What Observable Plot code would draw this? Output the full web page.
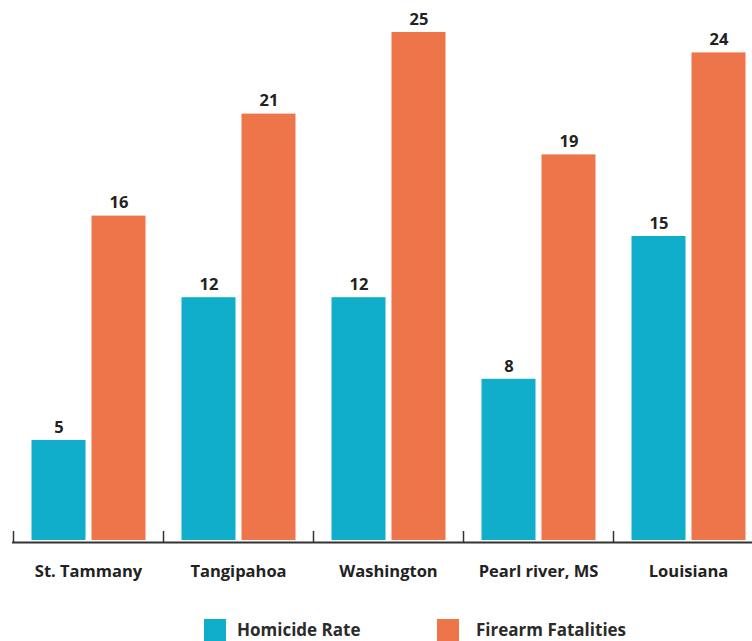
<!DOCTYPE html>
<html>
<head>
<meta charset="utf-8">
<script src="https://cdn.jsdelivr.net/npm/d3@7"></script>
<script src="https://cdn.jsdelivr.net/npm/@observablehq/plot@0.6"></script>
<style>
  html, body { margin: 0; padding: 0; background: #fff; }
  #wrap { position: relative; width: 752px; height: 641px; overflow: hidden; font-family: "Open Sans", sans-serif; }
  .legend-item { position: absolute; top: 619px; display: flex; align-items: center; font-weight: 700; font-size: 17px; color: #2b2b2b; line-height: 22px; }
  .swatch { width: 22px; height: 22px; display: inline-block; }
</style>
</head>
<body>
<div id="wrap"></div>
<script>
const categories = ["St. Tammany", "Tangipahoa", "Washington", "Pearl river, MS", "Louisiana"];
const homicideRate = [5, 12, 12, 8, 15];
const firearmFatalities = [16, 21, 25, 19, 24];
const seriesNames = ["Homicide Rate", "Firearm Fatalities"];
const seriesColors = ["#11aecb", "#ee754a"];

const rows = [];
categories.forEach((c, i) => {
  rows.push({category: c, series: seriesNames[0], value: homicideRate[i]});
  rows.push({category: c, series: seriesNames[1], value: firearmFatalities[i]});
});

const step = 150;
const insets = {
  [seriesNames[0]]: {left: 18.5, right: 77.5},
  [seriesNames[1]]: {left: 78.5, right: 17.5}
};

const textColor = "#222";
const fontFamily = "'Open Sans', sans-serif";

const marks = [];
for (const s of seriesNames) {
  const data = rows.filter(d => d.series === s);
  marks.push(Plot.barY(data, {
    x: "category", y: "value", fill: "series",
    insetLeft: insets[s].left, insetRight: insets[s].right, insetBottom: 2
  }));
  marks.push(Plot.text(data, {
    x: "category", y: "value", text: d => String(d.value),
    dx: (insets[s].left - insets[s].right) / 2, dy: -13,
    lineAnchor: "middle", fontWeight: 700, fontSize: 16.5, fill: textColor
  }));
}
marks.push(Plot.ruleY([0], {stroke: "#333", strokeWidth: 2}));
marks.push(Plot.ruleX(categories, {x: d => d, y1: 0, y2: 0, dx: -step / 2, insetTop: -11, stroke: "#333", strokeWidth: 1.5}));
marks.push(Plot.text(categories, {
  x: d => d, y: 0, text: d => d, dy: 29, lineAnchor: "middle",
  fontWeight: 700, fontSize: 16.5, fill: textColor
}));

const chart = Plot.plot({
  width: 752,
  height: 612,
  marginLeft: 12,
  marginRight: 0,
  marginTop: 32,
  marginBottom: 70,
  style: {fontFamily, background: "#fff"},
  x: {domain: categories, range: [12.5, 12.5 + step * categories.length], padding: 0, axis: null},
  y: {domain: [0, 25], range: [542, 32], nice: false, axis: null},
  color: {domain: seriesNames, range: seriesColors},
  marks
});

const wrap = document.getElementById("wrap");
wrap.appendChild(chart);

const legendPos = [204, 437];
const textGap = [11, 17];
seriesNames.forEach((s, i) => {
  const item = document.createElement("div");
  item.className = "legend-item";
  item.style.left = legendPos[i] + "px";
  const sw = document.createElement("span");
  sw.className = "swatch";
  sw.style.background = seriesColors[i];
  sw.style.marginRight = textGap[i] + "px";
  const t = document.createElement("span");
  t.textContent = s;
  item.appendChild(sw);
  item.appendChild(t);
  wrap.appendChild(item);
});
</script>
</body>
</html>
